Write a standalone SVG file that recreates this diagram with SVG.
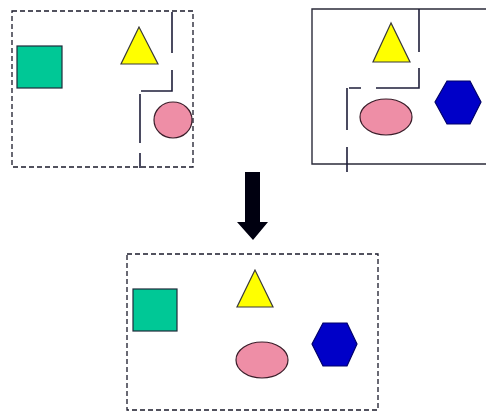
<svg xmlns="http://www.w3.org/2000/svg" width="486" height="411" viewBox="0 0 486 411">
  <style>
    .frame-dash { fill: none; stroke: #1a1a2a; stroke-width: 1.3; stroke-dasharray: 5 3; }
    .frame-solid { fill: none; stroke: #2b2b3a; stroke-width: 1.4; }
    .wall { fill: none; stroke: #1e1e3a; stroke-width: 1.6; }
    .square { fill: #00c896; stroke: #1e2a3a; stroke-width: 1.2; }
    .tri { fill: #ffff00; stroke: #3a3a3a; stroke-width: 1.2; }
    .ellipse { fill: #ee8ea6; stroke: #3a1e2a; stroke-width: 1.2; }
    .hex { fill: #0000c8; stroke: #00006a; stroke-width: 1.2; }
    .arrow { fill: #000010; }
  </style>
  <rect width="486" height="411" fill="#ffffff"/>

  <!-- top-left view: dashed frame with green square, triangle and circle -->
  <g id="view-left">
    <rect class="frame-dash" x="12" y="11" width="181" height="156"/>
    <rect class="square" x="17" y="46" width="45" height="42"/>
    <polygon class="tri" points="139,27 121,64 158,64"/>
    <ellipse class="ellipse" cx="173" cy="120" rx="19" ry="18"/>
    <path class="wall" d="M172,12 V53 M172,70 V91 H141 M140,94 V143 M140,153 V168"/>
  </g>

  <!-- top-right view: solid frame with triangle, ellipse and hexagon -->
  <g id="view-right">
    <path class="frame-solid" d="M490,9 H312 V164 H490"/>
    <polygon class="tri" points="391,23 373,62 410,62"/>
    <ellipse class="ellipse" cx="386" cy="117" rx="26" ry="18"/>
    <polygon class="hex" points="447,81 470,81 481,102 470,124 447,124 435,102"/>
    <path class="wall" d="M419,9 V52 M419,68 V88 H376 M361,88 H349 M347,88 V130 M347,147 V172"/>
  </g>

  <!-- merge arrow -->
  <g id="connectors">
    <polygon class="arrow" points="245,172 260,172 260,222 268,222 253,240 237,222 245,222"/>
  </g>

  <!-- combined view -->
  <g id="view-merged">
    <rect class="frame-dash" x="127" y="254" width="251" height="156"/>
    <rect class="square" x="133" y="289" width="44" height="42"/>
    <polygon class="tri" points="255,270 237,307 273,307"/>
    <ellipse class="ellipse" cx="262" cy="360" rx="26" ry="18"/>
    <polygon class="hex" points="323,323 347,323 357,344 347,366 323,366 312,344"/>
  </g>
</svg>
